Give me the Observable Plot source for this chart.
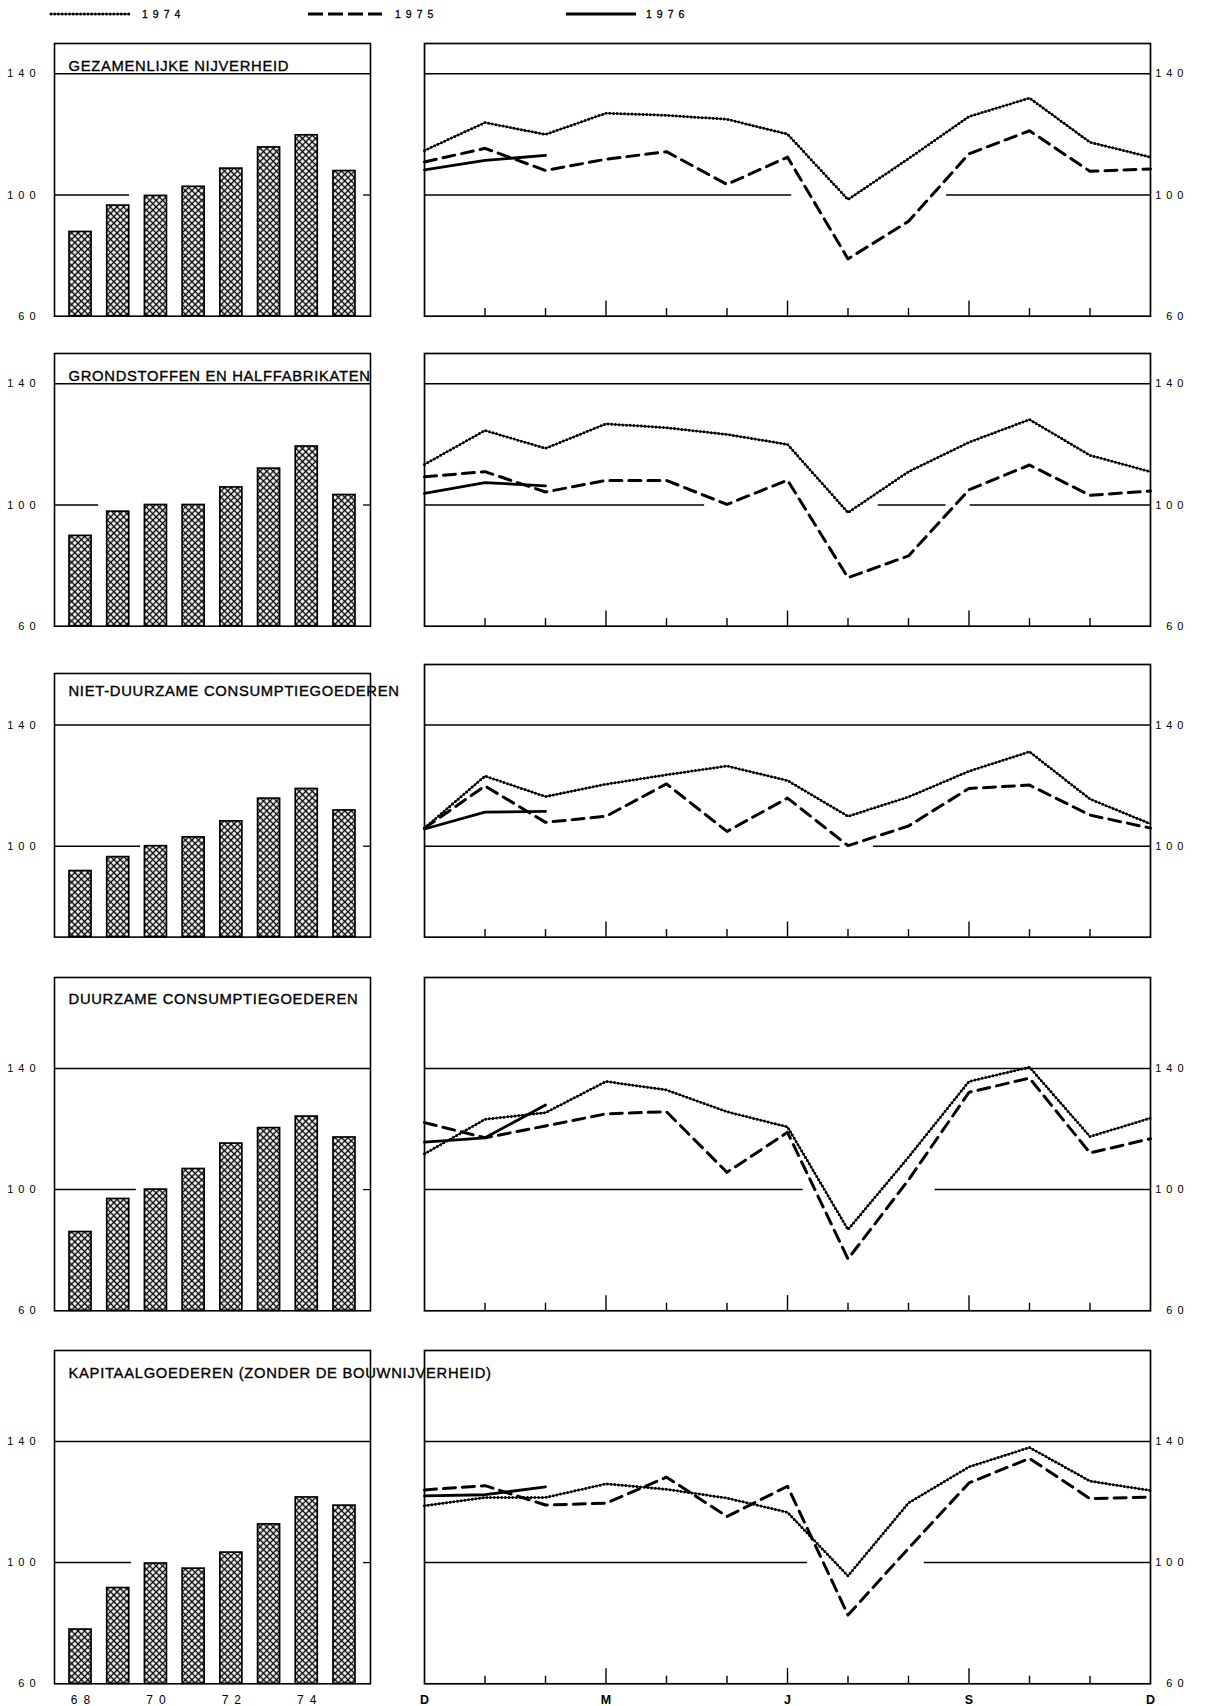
<!DOCTYPE html>
<html><head><meta charset="utf-8">
<script src="https://cdn.jsdelivr.net/npm/d3@7"></script>
<script src="https://cdn.jsdelivr.net/npm/@observablehq/plot@0.6"></script>
<style>
html,body{margin:0;padding:0;background:#fff;}
#root{position:relative;width:1211px;height:1706px;overflow:hidden;font-family:"Liberation Sans",Arial,sans-serif;background:#fff;}
#root svg{position:absolute;overflow:visible;background:transparent;}
#root g[aria-label="y-axis tick label"] text{letter-spacing:5px;}
#root g[aria-label="x-axis tick label"] text{letter-spacing:6px;}
</style></head><body><div id="root"></div>
<script>
// ---------- data ----------
const years = [68, 69, 70, 71, 72, 73, 74, 75];
const yearLabels = [68, 70, 72, 74];
const months = ["D", "J", "F", "M", "A", "M", "J", "J", "A", "S", "O", "N", "D"];
const monthLabelIdx = [0, 3, 6, 9, 12];
const seriesNames = ["1974", "1975", "1976"];

const titles = [
  "GEZAMENLIJKE NIJVERHEID",
  "GRONDSTOFFEN EN HALFFABRIKATEN",
  "NIET-DUURZAME CONSUMPTIEGOEDEREN",
  "DUURZAME CONSUMPTIEGOEDEREN",
  "KAPITAALGOEDEREN (ZONDER DE BOUWNIJVERHEID)"
];

// yearly indices (bars)
const barsGezamenlijk = [87.8, 96.5, 99.7, 102.7, 108.7, 115.7, 119.7, 107.9];
const barsGrondstoffen = [89.8, 97.8, 100.0, 100.0, 105.8, 112.0, 119.3, 103.3];
const barsNietDuurzaam = [91.8, 96.4, 100.0, 102.9, 108.2, 115.7, 118.9, 111.8];
const barsDuurzaam = [86.0, 96.9, 100.0, 106.8, 115.2, 120.3, 124.1, 117.2];
const barsKapitaal = [77.9, 91.6, 99.7, 98.0, 103.3, 112.6, 121.5, 118.8];

// monthly indices D..D
const m1974Gezamenlijk = [114.7, 123.9, 120.0, 127.0, 126.3, 125.0, 120.1, 98.5, 112.0, 125.9, 132.0, 117.4, 112.5];
const m1975Gezamenlijk = [110.9, 115.4, 108.1, 111.8, 114.3, 103.5, 112.5, 78.9, 91.3, 113.6, 121.2, 107.8, 108.6];
const m1976Gezamenlijk = [108.3, 111.4, 113.1];

const m1974Grondstoffen = [113.4, 124.6, 118.7, 126.8, 125.5, 123.3, 120.0, 97.5, 111.0, 120.7, 128.2, 116.4, 111.0];
const m1975Grondstoffen = [109.3, 111.0, 104.3, 108.1, 108.1, 100.2, 108.2, 76.0, 83.2, 105.0, 113.2, 103.2, 104.6];
const m1976Grondstoffen = [103.8, 107.4, 106.3];

const m1974NietDuurzaam = [106.0, 123.2, 116.4, 120.5, 123.6, 126.5, 121.7, 109.9, 116.3, 124.8, 131.2, 115.6, 107.4];
const m1975NietDuurzaam = [106.0, 119.9, 107.9, 109.9, 120.6, 104.9, 115.9, 100.2, 106.7, 119.1, 120.2, 110.3, 106.0];
const m1976NietDuurzaam = [105.7, 111.3, 111.5];

const m1974Duurzaam = [111.8, 123.2, 125.4, 135.7, 132.9, 125.7, 120.7, 86.8, 110.7, 135.7, 140.4, 117.5, 123.6];
const m1975Duurzaam = [122.1, 117.1, 121.0, 125.0, 125.7, 105.7, 118.9, 77.1, 103.2, 132.1, 136.8, 112.1, 116.8];
const m1976Duurzaam = [115.7, 117.1, 127.9];

const m1974Kapitaal = [118.8, 121.5, 121.5, 126.0, 124.2, 121.3, 116.6, 95.6, 119.7, 131.6, 138.0, 126.9, 123.8];
const m1975Kapitaal = [124.0, 125.4, 119.0, 119.6, 128.2, 115.2, 125.2, 82.7, 104.7, 126.3, 134.4, 121.1, 121.6];
const m1976Kapitaal = [122.0, 122.4, 125.0];

// y tick values per panel
const yTicksFull = [60, 100, 140];
const yTicksShort = [100, 140];

// extents (in month index) of the drawn 100-reference line in the monthly panels
const ref100Monthly = [
  [[0, 6.07], [8.63, 12]],
  [[0, 4.63], [7.5, 8.62], [9.02, 12]],
  [[0, 6.87], [7.42, 12]],
  [[0, 6.26], [8.44, 12]],
  [[0, 6.33], [8.26, 12]]
];
// end (in year) of the drawn 100-reference line in the yearly panels
const ref100YearlyEnd = [69.3, 68.48, 69.59, 69.48, 69.35];

// value domains per panel
const domainsLeft = [[60, 150], [60, 150], [70, 157], [60, 170], [60, 170]];
const domainsRight = [[60, 150], [60, 150], [70, 160], [60, 170], [60, 170]];

// ---------- layout (pixels) ----------
const PX = 3.03;                 // pixels per index point
const y140 = [73, 383, 725, 1068.3, 1440.7];
const titleDy = [17, 17, 12, 16, 17];
const FONT = "'Liberation Sans', Arial, sans-serif";

const panels = titles.map((t, k) => ({
  title: t,
  bars: [barsGezamenlijk, barsGrondstoffen, barsNietDuurzaam, barsDuurzaam, barsKapitaal][k],
  s74: [m1974Gezamenlijk, m1974Grondstoffen, m1974NietDuurzaam, m1974Duurzaam, m1974Kapitaal][k],
  s75: [m1975Gezamenlijk, m1975Grondstoffen, m1975NietDuurzaam, m1975Duurzaam, m1975Kapitaal][k],
  s76: [m1976Gezamenlijk, m1976Grondstoffen, m1976NietDuurzaam, m1976Duurzaam, m1976Kapitaal][k],
  yTicks: k === 2 ? yTicksShort : yTicksFull,
  ref100: ref100Monthly[k],
  ref100End: ref100YearlyEnd[k],
  dL: domainsLeft[k], dR: domainsRight[k],
  y140: y140[k], titleDy: titleDy[k], last: k === titles.length - 1
}));

const root = document.getElementById("root");

// hatch pattern definition
const defs = d3.select(root).append("svg").attr("width", 0).attr("height", 0).style("left", "0px").style("top", "0px");
const pat = defs.append("defs").append("pattern")
  .attr("id", "hatch").attr("patternUnits", "userSpaceOnUse")
  .attr("width", 4.6).attr("height", 4.6).attr("patternTransform", "rotate(45)");
pat.append("rect").attr("width", 4.6).attr("height", 4.6).attr("fill", "white");
pat.append("path").attr("d", "M0,2.3H4.6M2.3,0V4.6").attr("stroke", "black").attr("stroke-width", 1.35);

const XDOM = [67.31, 75.69];
const MT = 2;
const DOT = {strokeWidth: 3, strokeDasharray: "0,3.7", strokeLinecap: "round"};
const LABEL = {fill: "black", stroke: "black", strokeWidth: 0.35};

function place(svg, left, top) {
  svg.style.left = left + "px";
  svg.style.top = top + "px";
  root.appendChild(svg);
}

panels.forEach(p => {
  // ---- yearly bars (left) ----
  const [lo, hi] = p.dL;
  const mbL = p.last ? 24 : 2;
  const barData = years.map((yr, i) => ({year: yr, value: p.bars[i]}));
  const left = Plot.plot({
    width: 420, height: MT + mbL + (hi - lo) * PX,
    marginLeft: 54, marginRight: 50, marginTop: MT, marginBottom: mbL,
    style: {fontFamily: FONT, fontSize: "10px", color: "black", background: "transparent", overflow: "visible"},
    x: p.last ? {domain: XDOM} : {domain: XDOM, axis: null},
    y: {domain: [lo, hi]},
    marks: [
      Plot.rect(barData, {x1: d => d.year - 0.5, x2: d => d.year + 0.5, y1: lo, y2: "value",
        insetLeft: 7.85, insetRight: 7.85, fill: "url(#hatch)", stroke: "black", strokeWidth: 1.7}),
      Plot.ruleY([140], {stroke: "black", strokeWidth: 1.5}),
      Plot.ruleY([100], {x1: XDOM[0], x2: p.ref100End, stroke: "black", strokeWidth: 1.5}),
      Plot.ruleY([100], {x1: XDOM[1], x2: XDOM[1], insetLeft: -7, stroke: "black", strokeWidth: 1.3}),
      Plot.frame({stroke: "black", strokeWidth: 1.6}),
      Plot.axisY({ticks: p.yTicks, tickSize: 0, tickPadding: 14, fontSize: 11, label: null, ...LABEL}),
      ...(p.last ? [Plot.axisX({ticks: yearLabels, tickFormat: d => String(d), tickSize: 0, tickPadding: 12,
        fontSize: 12, dx: 3, label: null, ...LABEL})] : []),
      Plot.text([p.title], {frameAnchor: "top-left", dx: 14, dy: p.titleDy, textAnchor: "start",
        fontSize: 14.8, fill: "black", stroke: "black", strokeWidth: 0.35})
    ]
  });
  left.querySelectorAll('g[aria-label="text"] text').forEach(t => t.style.letterSpacing = "0.7px");
  place(left, 0, p.y140 - (hi - 140) * PX - MT);

  // ---- monthly lines (right) ----
  const [lo2, hi2] = p.dR;
  const mbR = p.last ? 24 : 2;
  const pts = arr => arr.map((v, i) => ({m: i, v}));
  const tickIdx = d3.range(1, 12);
  const right = Plot.plot({
    width: 831, height: MT + mbR + (hi2 - lo2) * PX,
    marginLeft: 44, marginRight: 61, marginTop: MT, marginBottom: mbR,
    style: {fontFamily: FONT, fontSize: "10px", color: "black", background: "transparent", overflow: "visible"},
    x: p.last ? {domain: [0, 12]} : {domain: [0, 12], axis: null},
    y: {domain: [lo2, hi2]},
    marks: [
      Plot.ruleY([140], {stroke: "black", strokeWidth: 1.5}),
      Plot.ruleY(p.ref100, {y: () => 100, x1: d => d[0], x2: d => d[1], stroke: "black", strokeWidth: 1.5}),
      Plot.ruleX(tickIdx, {x: d => d, y1: lo2, y2: d => lo2 + (d % 3 === 0 ? 5 : 2.5), stroke: "black", strokeWidth: 1.4}),
      Plot.frame({stroke: "black", strokeWidth: 1.7}),
      Plot.axisY({anchor: "right", ticks: p.yTicks, tickSize: 0, tickPadding: 38, textAnchor: "end",
        fontSize: 11, label: null, ...LABEL}),
      ...(p.last ? [Plot.axisX({ticks: monthLabelIdx, tickFormat: i => months[i], tickSize: 0, tickPadding: 11,
        fontSize: 12.5, fontWeight: "bold", dx: 3, label: null})] : []),
      Plot.line(pts(p.s74), {x: "m", y: "v", stroke: "black", strokeWidth: 1.1}),
      Plot.line(pts(p.s74), {x: "m", y: "v", stroke: "black", ...DOT}),
      Plot.line(pts(p.s75), {x: "m", y: "v", stroke: "black", strokeWidth: 3, strokeDasharray: "12,7"}),
      Plot.line(pts(p.s76), {x: "m", y: "v", stroke: "black", strokeWidth: 2.8})
    ]
  });
  place(right, 380, p.y140 - (hi2 - 140) * PX - MT);
});

// ---------- legend ----------
const leg = d3.select(root).append("svg").attr("width", 1211).attr("height", 30)
  .style("left", "0px").style("top", "0px");
const legendItems = [
  {name: seriesNames[0], x1: 51, x2: 129, tx: 142, style: "dot"},
  {name: seriesNames[1], x1: 308, x2: 382, tx: 395, style: "dash"},
  {name: seriesNames[2], x1: 566, x2: 636, tx: 646, style: "solid"}
];
legendItems.forEach(it => {
  const ly = 14;
  const ln = () => leg.append("line").attr("x1", it.x1).attr("x2", it.x2).attr("y1", ly).attr("y2", ly).attr("stroke", "black");
  if (it.style === "dot") {
    ln().attr("stroke-width", 1.1);
    ln().attr("stroke-width", DOT.strokeWidth).attr("stroke-dasharray", DOT.strokeDasharray).attr("stroke-linecap", "round");
  } else if (it.style === "dash") {
    ln().attr("stroke-width", 3).attr("stroke-dasharray", "15,5");
  } else {
    ln().attr("stroke-width", 2.8);
  }
  leg.append("text").attr("x", it.tx).attr("y", ly + 4).attr("font-family", FONT).attr("font-size", 10.5)
    .attr("stroke", "black").attr("stroke-width", 0.3)
    .style("letter-spacing", "5px").attr("fill", "black").text(it.name);
});
</script></body></html>
